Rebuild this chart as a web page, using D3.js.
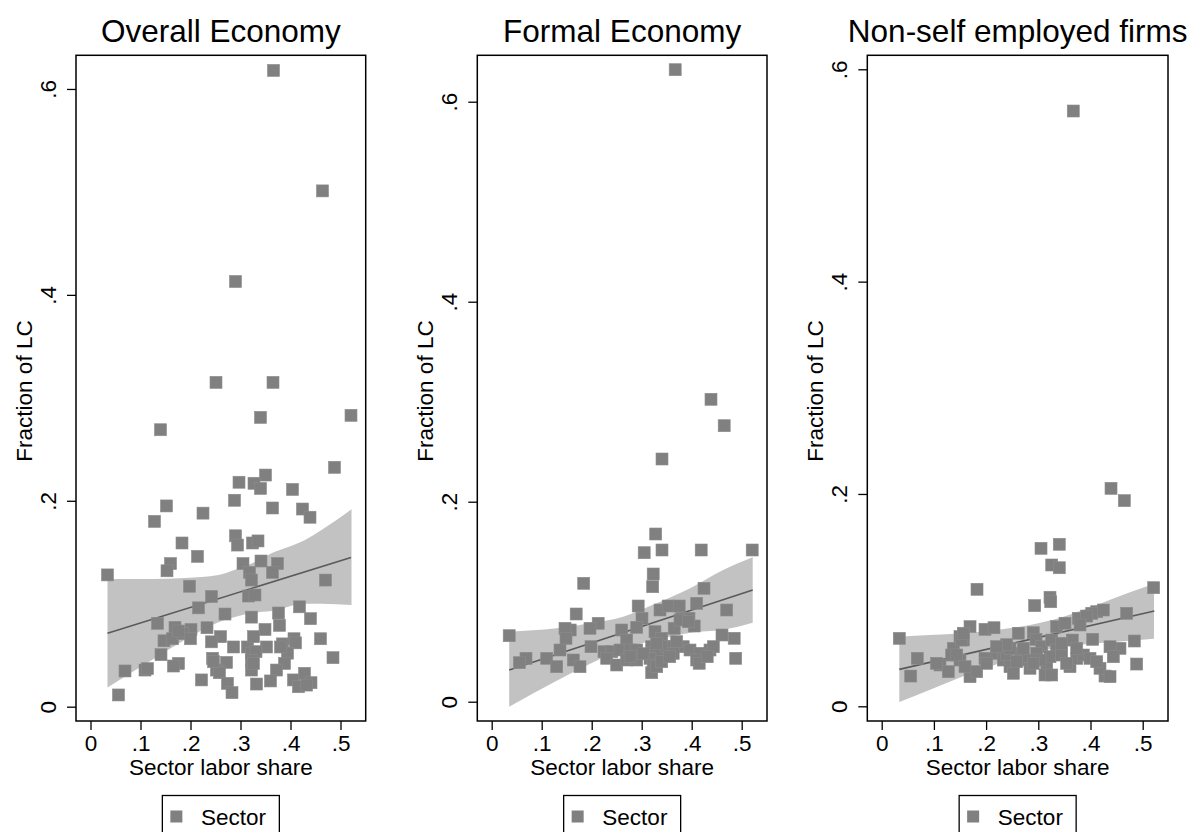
<!DOCTYPE html>
<html><head><meta charset="utf-8">
<script src="https://cdn.jsdelivr.net/npm/d3@7"></script>
<style>
html,body{margin:0;padding:0;background:#fff;}
svg{display:block;font-family:"Liberation Sans",Arial,Helvetica,sans-serif;}
</style></head>
<body><svg id="c" width="1192" height="832"></svg>
<script>
// ---------------- DATA ----------------
const panelTitles = ["Overall Economy", "Formal Economy", "Non-self employed firms"];
const xTickValues = [0, 0.1, 0.2, 0.3, 0.4, 0.5];
const yTickValues = [0, 0.2, 0.4, 0.6];
const xTitle = "Sector labor share";
const yTitle = "Fraction of LC";
const legendLabel = "Sector";

// [labor share, fraction of LC]
const overallPts = [
[0.366,0.618],[0.464,0.501],[0.290,0.413],[0.251,0.315],[0.365,0.315],[0.340,0.281],[0.521,0.283],[0.140,0.269],
[0.488,0.2325],[0.350,0.225],[0.297,0.218],[0.327,0.217],[0.340,0.212],[0.404,0.211],[0.288,0.2005],[0.152,0.195],
[0.364,0.193],[0.424,0.192],[0.439,0.184],[0.225,0.188],[0.128,0.180],[0.183,0.159],[0.290,0.166],[0.294,0.157],
[0.324,0.159],[0.335,0.161],[0.214,0.146],[0.160,0.139],[0.153,0.132],[0.034,0.128],[0.305,0.139],[0.341,0.1415],
[0.374,0.139],[0.318,0.1305],[0.322,0.123],[0.364,0.1305],[0.470,0.123],[0.198,0.117],[0.242,0.107],[0.316,0.1075],
[0.329,0.1085],[0.216,0.096],[0.269,0.090],[0.322,0.087],[0.376,0.091],[0.418,0.097],[0.440,0.0855],[0.134,0.081],
[0.378,0.079],[0.349,0.075],[0.233,0.0767],[0.169,0.077],[0.201,0.075],[0.147,0.064],[0.164,0.066],[0.184,0.071],
[0.200,0.066],[0.260,0.068],[0.242,0.063],[0.286,0.058],[0.314,0.058],[0.326,0.068],[0.352,0.058],[0.384,0.061],
[0.407,0.066],[0.410,0.062],[0.460,0.066],[0.322,0.052],[0.331,0.0535],[0.394,0.052],[0.485,0.0476],[0.141,0.0505],
[0.244,0.047],[0.272,0.043],[0.322,0.045],[0.388,0.042],[0.176,0.042],[0.166,0.0395],[0.069,0.0347],[0.109,0.0356],
[0.114,0.037],[0.252,0.0356],[0.258,0.033],[0.322,0.0356],[0.372,0.0356],[0.222,0.026],[0.274,0.0227],[0.332,0.022],
[0.360,0.025],[0.406,0.026],[0.428,0.0324],[0.416,0.0194],[0.441,0.0233],[0.283,0.0136],[0.056,0.0114],[0.326,0.042],
[0.380,0.058],[0.432,0.021],[0.176,0.0735],[0.246,0.0437]
];
const formalPts = [
[0.367,0.632],[0.4386,0.3024],[0.465,0.276],[0.3406,0.2427],[0.328,0.1677],[0.305,0.149],[0.3406,0.1517],[0.419,0.1517],
[0.521,0.1517],[0.323,0.1277],[0.322,0.115],[0.184,0.1184],[0.4246,0.1134],[0.169,0.0877],[0.035,0.066],[0.470,0.0917],
[0.293,0.0957],[0.3366,0.0917],[0.353,0.0957],[0.375,0.0957],[0.410,0.0984],[0.3006,0.0834],[0.380,0.0834],[0.3946,0.0834],
[0.213,0.0784],[0.1966,0.0734],[0.157,0.0717],[0.1466,0.0734],[0.290,0.0744],[0.405,0.0757],[0.365,0.0734],[0.260,0.0717],
[0.3266,0.070],[0.340,0.0634],[0.4606,0.0667],[0.485,0.0634],[0.1486,0.0634],[0.1366,0.0517],[0.1986,0.055],[0.270,0.0617],
[0.2246,0.050],[0.240,0.050],[0.2566,0.0517],[0.2766,0.0517],[0.290,0.0517],[0.320,0.055],[0.3366,0.0517],[0.350,0.055],
[0.3632,0.055],[0.383,0.055],[0.3966,0.0517],[0.4166,0.0484],[0.4366,0.0517],[0.4432,0.055],[0.0686,0.0434],[0.0552,0.039],
[0.110,0.0434],[0.130,0.035],[0.1632,0.0417],[0.1766,0.035],[0.230,0.0434],[0.250,0.0367],[0.270,0.0417],[0.290,0.0417],
[0.3166,0.0434],[0.323,0.0367],[0.320,0.029],[0.330,0.035],[0.340,0.040],[0.410,0.0417],[0.415,0.0384],[0.431,0.045],
[0.488,0.0434],[0.363,0.0484],[0.3766,0.0817],[0.3932,0.080],[0.2766,0.045],[0.303,0.048],[0.330,0.0584],[0.356,0.045],
[0.370,0.060]
];
const nonselfPts = [
[0.367,0.5607],[0.4393,0.2053],[0.4648,0.1937],[0.3052,0.1488],[0.3402,0.1526],[0.3257,0.1331],[0.3402,0.1305],[0.1826,0.1102],
[0.521,0.1117],[0.2931,0.0948],[0.3224,0.1027],[0.3238,0.0985],[0.0337,0.064],[0.0682,0.0452],[0.0556,0.0285],[0.1692,0.075],
[0.1979,0.0725],[0.2151,0.074],[0.2617,0.0688],[0.2904,0.0693],[0.4693,0.0876],[0.4119,0.0891],[0.4246,0.0907],[0.4024,0.0876],
[0.3766,0.0829],[0.3927,0.085],[0.3799,0.0766],[0.3352,0.075],[0.3512,0.0782],[0.150,0.0656],[0.1563,0.0625],[0.1372,0.0546],
[0.134,0.0483],[0.2956,0.0631],[0.3065,0.0561],[0.3257,0.0624],[0.3352,0.053],[0.3651,0.0624],[0.4042,0.0631],[0.4839,0.0615],
[0.4565,0.0546],[0.4374,0.0561],[0.4437,0.0467],[0.4885,0.0398],[0.4278,0.0285],[0.4182,0.0358],[0.1117,0.0389],[0.1276,0.0326],
[0.1692,0.0279],[0.182,0.0326],[0.150,0.0436],[0.1437,0.0483],[0.2203,0.0499],[0.233,0.0436],[0.2458,0.0373],[0.2522,0.0311],
[0.265,0.0499],[0.2778,0.0436],[0.2841,0.0358],[0.3161,0.0373],[0.3129,0.0295],[0.3257,0.0295],[0.3224,0.0467],[0.3448,0.0483],
[0.3607,0.0373],[0.3736,0.0452],[0.3862,0.0483],[0.399,0.0452],[0.4119,0.042],[0.1979,0.0452],[0.3736,0.0546],[0.105,0.0405],
[0.1596,0.0373],[0.1533,0.0624],[0.1563,0.0688],[0.2011,0.0405],[0.2394,0.049],[0.2458,0.0546],[0.2713,0.0546],[0.2585,0.042],
[0.2969,0.0499],[0.3033,0.0436],[0.2905,0.0405],[0.4374,0.0279],[0.3544,0.0405],[0.3448,0.0593],[0.2394,0.058],[0.2202,0.0562]
];

// fitted line endpoints and 95% CI band
const overallFitX = [0.034, 0.521], overallFitY = [0.0713, 0.145];
const overallBandX  = [0.034, 0.122, 0.189, 0.256, 0.289, 0.322, 0.362, 0.429, 0.462, 0.522];
const overallBandHi = [0.124, 0.124, 0.125, 0.128, 0.133, 0.139, 0.149, 0.162, 0.1716, 0.1917];
const overallBandLo = [0.0186, 0.045, 0.065, 0.082, 0.087, 0.091, 0.093, 0.100, 0.100, 0.0988];

const formalFitX = [0.035, 0.522], formalFitY = [0.0317, 0.1117];
const formalBandX  = [0.035, 0.130, 0.197, 0.263, 0.330, 0.397, 0.463, 0.522];
const formalBandHi = [0.070, 0.0734, 0.0784, 0.085, 0.0984, 0.1134, 0.1317, 0.1444];
const formalBandLo = [-0.005, 0.021, 0.038, 0.053, 0.062, 0.069, 0.072, 0.079];

const nonselfFitX = [0.0337, 0.5222], nonselfFitY = [0.0348, 0.0898];
const nonselfBandX  = [0.0337, 0.0925, 0.156, 0.2203, 0.284, 0.348, 0.412, 0.4757, 0.5216];
const nonselfBandHi = [0.0656, 0.0672, 0.0688, 0.0719, 0.0766, 0.0844, 0.0954, 0.1074, 0.1152];
const nonselfBandLo = [0.004, 0.0156, 0.0284, 0.0397, 0.0494, 0.056, 0.0594, 0.0618, 0.0636];

// axis ranges of each plot region
const overallXDomain = [-0.029, 0.5504], overallYDomain = [-0.0139, 0.6327];
const formalXDomain  = [-0.0288, 0.5506], formalYDomain  = [-0.0193, 0.6464];
const nonselfXDomain = [-0.02759, 0.54847], nonselfYDomain = [-0.013846, 0.61317];

// ---------------- LAYOUT ----------------
const panels = [
  {title: panelTitles[0], pts: overallPts, fitX: overallFitX, fitY: overallFitY, bx: overallBandX, bhi: overallBandHi, blo: overallBandLo, xd: overallXDomain, yd: overallYDomain, left: 76, right: 365.7},
  {title: panelTitles[1], pts: formalPts, fitX: formalFitX, fitY: formalFitY, bx: formalBandX, bhi: formalBandHi, blo: formalBandLo, xd: formalXDomain, yd: formalYDomain, left: 477.3, right: 767},
  {title: panelTitles[2], pts: nonselfPts, fitX: nonselfFitX, fitY: nonselfFitY, bx: nonselfBandX, bhi: nonselfBandHi, blo: nonselfBandLo, xd: nonselfXDomain, yd: nonselfYDomain, left: 867.3, right: 1168}
];
const TOP = 55.3, BOTTOM = 721;
const markerColor = "#808080", bandColor = "#c2c2c2", lineColor = "#5a5a5a";
const MS = 12;

const svg = d3.select("#c");
const fmt = d => d === 0 ? "0" : d3.format(".1f")(d).replace(/^0/, "");

panels.forEach((p, i) => {
  const x = d3.scaleLinear().domain(p.xd).range([p.left, p.right]);
  const y = d3.scaleLinear().domain(p.yd).range([BOTTOM, TOP]);
  const g = svg.append("g");
  const cx = (p.left + p.right) / 2;

  // CI band
  const band = p.bx.map((v, k) => ({x: v, lo: p.blo[k], hi: p.bhi[k]}));
  g.append("path").datum(band)
    .attr("d", d3.area().x(d => x(d.x)).y0(d => y(d.lo)).y1(d => y(d.hi)).curve(d3.curveMonotoneX))
    .attr("fill", bandColor);
  // fitted line
  g.append("line")
    .attr("x1", x(p.fitX[0])).attr("y1", y(p.fitY[0]))
    .attr("x2", x(p.fitX[1])).attr("y2", y(p.fitY[1]))
    .attr("stroke", lineColor).attr("stroke-width", 1.6);
  // points
  g.selectAll("rect.pt").data(p.pts).join("rect").attr("class", "pt")
    .attr("x", d => x(d[0]) - MS / 2).attr("y", d => y(d[1]) - MS / 2)
    .attr("width", MS).attr("height", MS)
    .attr("fill", markerColor).attr("stroke", "#8c8c8c").attr("stroke-width", 0.6);

  // plot box
  g.append("rect").attr("x", p.left).attr("y", TOP)
    .attr("width", p.right - p.left).attr("height", BOTTOM - TOP)
    .attr("fill", "none").attr("stroke", "#000").attr("stroke-width", 1.5);

  // y axis
  const ya = g.append("g").attr("transform", `translate(${p.left},0)`)
    .call(d3.axisLeft(y).tickValues(yTickValues).tickFormat(fmt).tickSize(9));
  ya.select(".domain").remove();
  ya.selectAll(".tick line").attr("stroke", "#000").attr("stroke-width", 1.3);
  ya.selectAll(".tick text")
    .attr("transform", "rotate(-90)").attr("x", 0).attr("y", -20.5).attr("dy", 0)
    .attr("text-anchor", "middle").attr("font-size", 22.5).attr("fill", "#000")
    .style("font-family", "'Liberation Sans', Arial, sans-serif");

  // x axis
  const xa = g.append("g").attr("transform", `translate(0,${BOTTOM})`)
    .call(d3.axisBottom(x).tickValues(xTickValues).tickFormat(fmt).tickSize(9));
  xa.select(".domain").remove();
  xa.selectAll(".tick line").attr("stroke", "#000").attr("stroke-width", 1.3);
  xa.selectAll(".tick text").attr("y", 30).attr("dy", 0)
    .attr("font-size", 22.5).attr("fill", "#000")
    .style("font-family", "'Liberation Sans', Arial, sans-serif");

  // axis titles
  g.append("text").attr("x", cx).attr("y", 775).attr("text-anchor", "middle")
    .attr("font-size", 22.5).text(xTitle);
  g.append("text").attr("transform", `translate(${p.left - 44},391) rotate(-90)`)
    .attr("text-anchor", "middle").attr("font-size", 22.5).text(yTitle);

  // panel title
  g.append("text").attr("x", cx).attr("y", 42).attr("text-anchor", "middle")
    .attr("font-size", 31.5).text(p.title);

  // legend
  const lw = 117, lx = cx - lw / 2;
  g.append("rect").attr("x", lx).attr("y", 795.5).attr("width", lw).attr("height", 60)
    .attr("fill", "#fff").attr("stroke", "#000").attr("stroke-width", 1.3);
  g.append("rect").attr("x", lx + 14 - MS / 2).attr("y", 816.5 - MS / 2)
    .attr("width", MS).attr("height", MS).attr("fill", markerColor);
  g.append("text").attr("x", lx + 38.7).attr("y", 825).attr("font-size", 22.5).text(legendLabel);
});
</script>
</body></html>
